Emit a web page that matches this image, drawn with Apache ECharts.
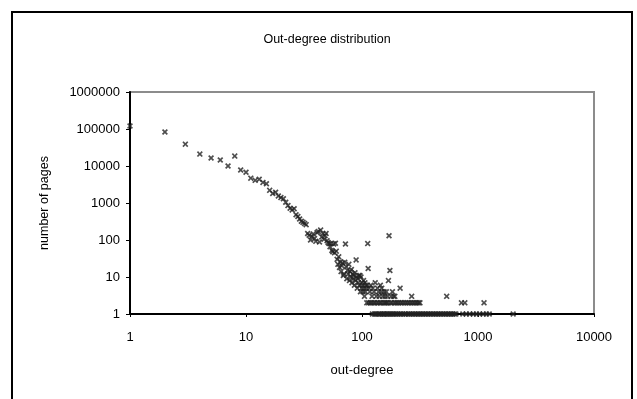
<!DOCTYPE html>
<html>
<head>
<meta charset="utf-8">
<script src="https://cdn.jsdelivr.net/npm/echarts@6/dist/echarts.min.js"></script>
<style>
html,body{margin:0;padding:0;background:#fff;}
#chart{width:637px;height:399px;}
</style>
</head>
<body>
<div id="chart"></div>
<script>
// ---- data ----
const chartTitle = 'Out-degree distribution';
const xAxisTitle = 'out-degree';
const yAxisTitle = 'number of pages';
const xTickLabels = ['1', '10', '100', '1000', '10000'];
const yTickLabels = ['1', '10', '100', '1000', '10000', '100000', '1000000'];

// out-degree 1..33
const headDegree = [1,2,3,4,5,6,7,8,9,10,11,12,13,14,15,16,17,18,19,20,21,22,23,24,25,26,27,28,29,30,31,32,33];
const headPages  = [120000,83000,39000,21000,16500,14500,10000,18500,7800,6800,4700,4100,4400,3600,3300,2200,1800,1950,1550,1400,1300,1050,850,720,650,700,480,430,370,320,300,280,260];

// out-degree 34..60
const midDegree = [34,35,36,37,38,39,40,41,42,43,44,45,46,47,48,49,50,51,52,53,54,55,56,57,58,59,60];
const midPages  = [150,135,100,125,145,110,92,160,170,88,185,120,150,105,130,150,95,85,80,66,80,52,48,78,45,82,50];

// out-degree 61..109
const lowDegree = [61,62,63,64,65,66,67,68,69,70,71,72,73,74,75,76,77,78,79,80,81,82,83,84,85,86,87,88,89,90,91,92,93,94,95,96,97,98,99,100,101,102,103,104,105,106,107,108,109];
const lowPages  = [30,22,35,18,26,14,20,24,11,12,25,78,19,9,15,12,22,8,14,10,16,7,12,9,11,6,13,8,29,10,5,9,7,11,6,11,4,10,5,7,6,4,8,5,3,7,4,6,5];

// sparse tail with three or more pages
const tailDegree = [111,112,113,115,117,119,122,124,127,130,133,136,139,141,144,147,148,151,155,158,162,166,169,171,174,178,183,187,192,213,268,537];
const tailPages  = [6,80,17,5,4,6,3,5,4,7,3,5,4,3,6,4,5,3,4,3,4,3,8,130,15,3,4,3,3,5,3,3];

// out-degrees having exactly two pages
const twoPageDegree = [110,114,118,121,126,129,134,138,143,146,152,157,160,164,168,176,181,189,195,201,207,215,222,230,238,247,255,264,273,282,291,300,309,316,720,770,1127];
// out-degrees having exactly one page
const onePageDegree = [123,128,131,135,140,145,149,153,156,161,165,170,175,180,185,190,197,203,210,217,225,233,240,250,258,267,276,285,295,305,314,325,335,346,358,370,382,395,408,422,436,450,465,481,497,514,531,549,567,586,605,625,645,740,790,850,910,970,1030,1110,1180,1250,2010];

// ---- build points ----
const points = [];
function addPairs(xs, ys) { xs.forEach((x, i) => points.push([x, ys[i]])); }
addPairs(headDegree, headPages);
addPairs(midDegree, midPages);
addPairs(lowDegree, lowPages);
addPairs(tailDegree, tailPages);
twoPageDegree.forEach(x => points.push([x, 2]));
onePageDegree.forEach(x => points.push([x, 1]));

const cross = 'path://M0,2L2,0L5,3L8,0L10,2L7,5L10,8L8,10L5,7L2,10L0,8L3,5Z';
const font = '"Liberation Sans", Arial, sans-serif';

const chart = echarts.init(document.getElementById('chart'), null, {renderer: 'canvas'});
chart.setOption({
  animation: false,
  backgroundColor: '#fff',
  title: {
    text: chartTitle,
    left: 322, top: 28, textAlign: 'center',
    textStyle: {fontFamily: font, fontSize: 12.5, fontWeight: 'normal', color: '#000'}
  },
  grid: {
    left: 130, right: 43, top: 92, bottom: 85,
    show: true, borderColor: '#8c8c8c', borderWidth: 2, backgroundColor: 'transparent'
  },
  xAxis: {
    type: 'log', logBase: 10, min: 1, max: 10000, interval: 1,
    name: xAxisTitle, nameLocation: 'middle', nameGap: 50,
    nameTextStyle: {fontFamily: font, fontSize: 13, color: '#000'},
    axisLine: {lineStyle: {color: '#000', width: 2}},
    axisTick: {show: true, length: 3, inside: false, lineStyle: {color: '#000', width: 1}},
    minorTick: {show: false},
    splitLine: {show: false},
    axisLabel: {
      fontFamily: font, fontSize: 13, color: '#000', margin: 17,
      formatter: (v, i) => xTickLabels[i]
    }
  },
  yAxis: {
    type: 'log', logBase: 10, min: 1, max: 1000000, interval: 1,
    name: yAxisTitle, nameLocation: 'middle', nameGap: 79,
    nameTextStyle: {fontFamily: font, fontSize: 12.5, color: '#000'},
    axisLine: {lineStyle: {color: '#000', width: 2}},
    axisTick: {show: true, length: 4, inside: false, lineStyle: {color: '#000', width: 1}},
    splitLine: {show: false},
    axisLabel: {
      fontFamily: font, fontSize: 13, color: '#000', margin: 10,
      formatter: (v, i) => yTickLabels[i]
    }
  },
  graphic: [{
    type: 'rect', silent: true, z: 100,
    shape: {x: 12, y: 12, width: 620, height: 400},
    style: {fill: 'none', stroke: '#000', lineWidth: 2}
  }],
  series: [{
    type: 'scatter',
    data: points,
    symbol: cross,
    symbolSize: 6,
    itemStyle: {color: '#222'},
    clip: false
  }]
});
</script>
</body>
</html>
